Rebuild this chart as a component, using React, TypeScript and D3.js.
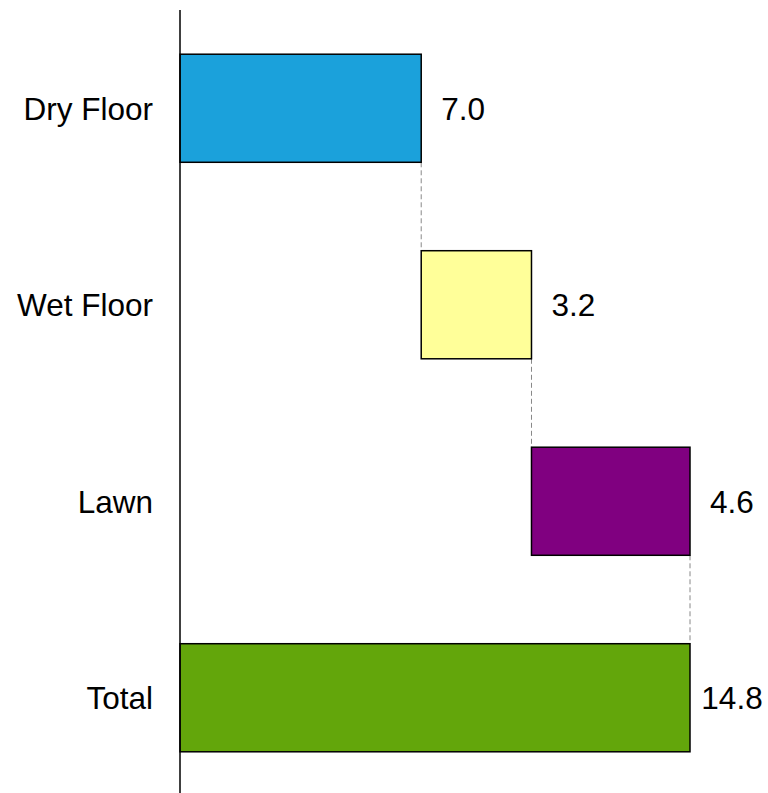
import React from "react";
import * as d3 from "d3";

// Waterfall of area contributions, ending in a total bar
const categories = ["Dry Floor", "Wet Floor", "Lawn", "Total"];
const values = [7.0, 3.2, 4.6, 14.8];
const isTotal = [false, false, false, true];
const colors = ["#1ba1db", "#ffff99", "#800080", "#63a60b"];

const W = 768;
const H = 793;

export default function App() {
  // running start/end of each bar
  let acc = 0;
  const bars = categories.map((c, i) => {
    let start: number, end: number;
    if (isTotal[i]) {
      start = 0;
      end = values[i];
    } else {
      start = acc;
      end = acc + values[i];
      acc = end;
    }
    return { cat: c, value: values[i], start, end, color: colors[i] };
  });

  const x = d3.scaleLinear().domain([0, d3.max(values) as number]).range([180, 690]);
  const y = d3
    .scaleBand<string>()
    .domain(categories)
    .range([10, 796])
    .paddingInner(0.45)
    .paddingOuter(0.225);

  const bw = y.bandwidth();
  const font = "Liberation Sans, Arial, sans-serif";

  return (
    <svg
      width={W}
      height={H}
      style={{ position: "absolute", left: 0, top: 0, display: "block" }}
      fontFamily={font}
    >
      <rect x={0} y={0} width={W} height={H} fill="#fff" />
      {/* connectors between consecutive bars */}
      {bars.slice(0, -1).map((b, i) => {
        const next = bars[i + 1];
        return (
          <line
            key={"c" + i}
            x1={x(b.end)}
            x2={x(b.end)}
            y1={(y(b.cat) as number) + bw}
            y2={y(next.cat) as number}
            stroke="#888"
            strokeWidth={1}
            strokeDasharray="5,3"
          />
        );
      })}
      {bars.map((b) => (
        <rect
          key={b.cat}
          x={x(b.start)}
          y={y(b.cat)}
          width={x(b.end) - x(b.start)}
          height={bw}
          fill={b.color}
          stroke="#000"
          strokeWidth={1.5}
        />
      ))}
      <line x1={x(0)} x2={x(0)} y1={10} y2={796} stroke="#000" strokeWidth={1.5} />
      {bars.map((b) => (
        <text
          key={"l" + b.cat}
          x={x(0) - 27}
          y={(y(b.cat) as number) + bw / 2}
          dy="0.36em"
          textAnchor="end"
          fontSize={31.5}
          fill="#000"
        >
          {b.cat}
        </text>
      ))}
      {bars.map((b) => (
        <text
          key={"v" + b.cat}
          x={x(b.end) + 42}
          y={(y(b.cat) as number) + bw / 2}
          dy="0.36em"
          textAnchor="middle"
          fontSize={31.5}
          fill="#000"
        >
          {b.value.toFixed(1)}
        </text>
      ))}
    </svg>
  );
}
